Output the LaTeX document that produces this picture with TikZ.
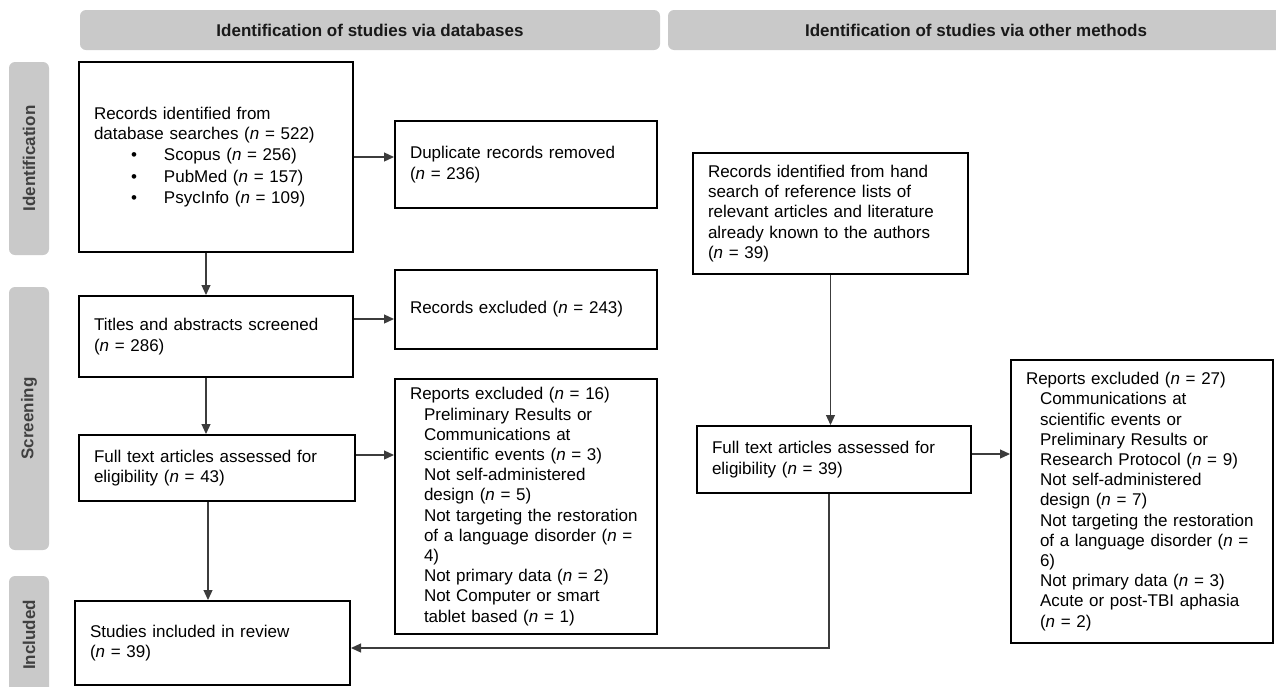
\documentclass[tikz,border=0pt]{standalone}
\usepackage{fontspec}
\setmainfont{Liberation Sans}
\usetikzlibrary{arrows.meta,calc}
\definecolor{barfill}{RGB}{201,201,201}
\definecolor{sidetext}{RGB}{64,64,64}
\definecolor{linegray}{RGB}{60,60,60}
\newcommand{\boxsize}{\fontsize{17}{20.2}\selectfont}
\newcommand{\nval}[1]{(\textit{n} = #1)}
\newcommand{\ind}{\hspace*{14pt}}
\newcommand{\bul}{\makebox[70pt][l]{\hspace*{37pt}\textbullet}}
\tikzset{
	box/.style={draw, line width=2pt, inner xsep=15pt, inner ysep=0pt, align=left, font=\boxsize},
	bar/.style={fill=barfill, rounded corners=6pt, minimum height=40pt, font=\boxsize\bfseries, text=black!90},
	sidebar/.style={bar, rotate=90, text=sidetext},
	conn/.style={draw=linegray, line width=1.2pt}
}

\begin{document}
\begin{tikzpicture}[x=1pt, y=-1pt, >={Triangle[length=10pt,width=9pt]}]
			\useasboundingbox (0,0) rectangle (1276,686);
			\clip (0,0) rectangle (1276,686);
			\node[bar, minimum width=580pt] (hdb) at (370,30) {Identification of studies via databases};
			\node[bar, minimum width=616pt] (hot) at (976,30) {Identification of studies via other methods};
			\node[sidebar, minimum width=193pt] (sid) at (29,158.5) {Identification};
			\node[sidebar, minimum width=263pt] (scr) at (29,418.5) {Screening};
			\node[sidebar, minimum width=118pt] (inc) at (29,635) {Included};
			\node[box, text width=244pt, minimum height=190pt] (db) at (216,157)
			{Records identified from\\database searches \nval{522}\\[1pt]
			\bul Scopus \nval{256}\\[1pt] \bul PubMed \nval{157}\\[1pt] \bul PsycInfo \nval{109}};
			\node[box, text width=232pt, minimum height=87pt] (dup) at (526,164.5)
			{Duplicate records removed\\\nval{236}};
			\node[box, text width=244pt, minimum height=81pt] (titles) at (216,336.5)
			{Titles and abstracts screened\\\nval{286}};
			\node[box, text width=232pt, minimum height=79pt] (recexcl) at (526,309.5)
			{Records excluded \nval{243}};
			\node[box, text width=246pt, minimum height=66pt] (full) at (217,468)
			{Full text articles assessed for\\eligibility \nval{43}};
			\node[box, text width=232pt, minimum height=255pt] (repexcl) at (526,506.5)
			{Reports excluded \nval{16}\\
			\ind Preliminary Results or\\ \ind Communications at\\ \ind scientific events \nval{3}\\
			\ind Not self-administered\\ \ind design \nval{5}\\
			\ind Not targeting the restoration\\ \ind of a language disorder (\textit{n} =\\ \ind 4)\\
			\ind Not primary data \nval{2}\\
			\ind Not Computer or smart\\ \ind tablet based \nval{1}};
			\node[box, text width=245pt, minimum height=84pt] (incl) at (212.5,643)
			{Studies included in review\\\nval{39}};
			\node[box, text width=245pt, minimum height=121pt] (hand) at (830.5,213.5)
			{Records identified from hand\\search of reference lists of\\relevant articles and literature\\already known to the authors\\\nval{39}};
			\node[box, text width=244pt, minimum height=67pt] (full2) at (834,459.5)
			{Full text articles assessed for\\eligibility \nval{39}};
			\node[box, text width=232pt, minimum height=283pt] (repexcl2) at (1142,501.5)
			{Reports excluded \nval{27}\\
			\ind Communications at\\ \ind scientific events or\\ \ind Preliminary Results or\\ \ind Research Protocol \nval{9}\\
			\ind Not self-administered\\ \ind design \nval{7}\\
			\ind Not targeting the restoration\\ \ind of a language disorder (\textit{n} =\\ \ind 6)\\
			\ind Not primary data \nval{3}\\
			\ind Acute or post-TBI aphasia\\ \ind \nval{2}};
			\draw[conn,->] (db.east) -- (db.east -| dup.west);
			\draw[conn,->] ([yshift=17.5pt]titles.east) -- ([yshift=17.5pt]titles.east -| recexcl.west);
			\draw[conn,->] ([yshift=13pt]full.east) -- ([yshift=13pt]full.east -| repexcl.west);
			\draw[conn,->] ([xshift=-10pt]db.south) -- ([xshift=-10pt]db.south |- titles.north);
			\draw[conn,->] ([xshift=-10pt]titles.south) -- ([xshift=-10pt]titles.south |- full.north);
			\draw[conn,->] ([xshift=-9pt]full.south) -- ([xshift=-9pt]full.south |- incl.north);
			\draw[conn,->] (hand.south) -- (hand.south |- full2.north);
			\draw[conn,->] ([yshift=5.5pt]full2.east) -- ([yshift=5.5pt]full2.east -| repexcl2.west);
			\draw[conn,->] ([xshift=-5pt]full2.south) |- ([yshift=-5pt]incl.east);
\end{tikzpicture}
\end{document}
